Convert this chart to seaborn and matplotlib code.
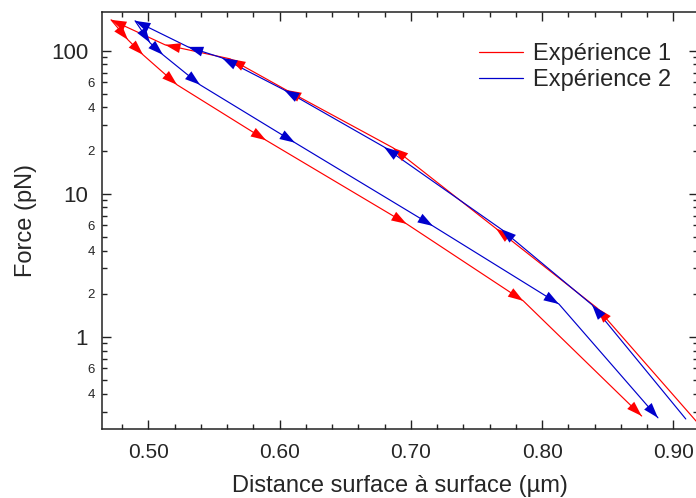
import numpy as np
import pandas as pd
import matplotlib
matplotlib.use('Agg')
import matplotlib.pyplot as plt
import matplotlib.ticker as mticker
from matplotlib.lines import Line2D
import seaborn as sns

# Expérience 1 : approche (vers la gauche) puis retrait (vers la droite)
dist_exp1 = [0.921, 0.8417, 0.7648, 0.6864, 0.6049, 0.5623, 0.5128, 0.4716,
             0.4845, 0.4960, 0.5219, 0.5897, 0.6968, 0.7856, 0.8758]
force_exp1 = [0.235, 1.59, 5.71, 20.9, 53.1, 87.5, 109.6, 163.9,
              118.8, 93.3, 57.6, 23.6, 6.14, 1.78, 0.279]

# Expérience 2
dist_exp2 = [0.9094, 0.8380, 0.7686, 0.6795, 0.6034, 0.5561, 0.5302, 0.4899,
             0.5013, 0.5112, 0.5394, 0.6117, 0.7168, 0.8128, 0.8882]
force_exp2 = [0.266, 1.67, 5.66, 21.2, 53.1, 88.9, 106.1, 161.3,
              113.2, 93.3, 57.6, 22.7, 5.94, 1.69, 0.271]

labels = ['Expérience 1', 'Expérience 2']
colors = ['#ff0000', '#0000cc']

sns.set_style('ticks')
plt.rcParams['font.family'] = ['Liberation Sans', 'DejaVu Sans']

df = pd.DataFrame({
    'distance': dist_exp1 + dist_exp2,
    'force': force_exp1 + force_exp2,
    'experience': [labels[0]] * len(dist_exp1) + [labels[1]] * len(dist_exp2),
})

fig = plt.figure(figsize=(6.96, 4.98), dpi=100)
ax = fig.add_axes([102 / 696, 1 - 428.7 / 498, (698 - 102) / 696, (428.7 - 12) / 498])

sns.lineplot(data=df, x='distance', y='force', hue='experience', palette=colors,
             sort=False, estimator=None, linewidth=0.85, legend=False, ax=ax)
ax.set_yscale('log')
ax.set_xlim(0.4647, 0.9187)
ax.set_ylim(0.2275, 186)

# fleches sur chaque point, orientees dans le sens du parcours
for d, f, c in [(dist_exp1, force_exp1, colors[0]), (dist_exp2, force_exp2, colors[1])]:
    pts = ax.transData.transform(np.column_stack([d, f]))
    for i in range(1, len(pts)):
        v = pts[i] - pts[i - 1]
        u = v / np.hypot(*v)
        back = -u * 16
        ax.annotate('', xy=(d[i], f[i]), xytext=(back[0], back[1]),
                    textcoords='offset pixels',
                    arrowprops=dict(arrowstyle='-|>,head_length=1.1,head_width=0.36',
                                    mutation_scale=10, color=c, lw=0,
                                    shrinkA=0, shrinkB=0))

# axes
ax.xaxis.set_major_locator(mticker.MultipleLocator(0.1))
ax.xaxis.set_minor_locator(mticker.MultipleLocator(0.02))
ax.xaxis.set_major_formatter(mticker.FormatStrFormatter('%.2f'))

ax.yaxis.set_major_locator(mticker.FixedLocator([1, 10, 100]))
ax.yaxis.set_major_formatter(mticker.FuncFormatter(lambda v, p: f'{v:g}'))
minor_y = [m * 10.0 ** e for e in (-1, 0, 1, 2) for m in range(2, 10)]
ax.yaxis.set_minor_locator(mticker.FixedLocator(minor_y))


def minor_label(v, pos):
    m = int(round(v / 10 ** np.floor(np.log10(v) + 1e-9)))
    return str(m) if m in (2, 4, 6) else ''


ax.yaxis.set_minor_formatter(mticker.FuncFormatter(minor_label))

ax.tick_params(which='both', direction='in', top=True, right=True, color='#222222', width=1)
ax.tick_params(which='major', length=6.5)
ax.tick_params(which='minor', length=3.6)
ax.tick_params(axis='x', which='major', labelsize=15, pad=10)
ax.tick_params(axis='y', which='major', labelsize=16, pad=10)
ax.tick_params(axis='y', which='minor', labelsize=9.5, pad=5)
for sp in ax.spines.values():
    sp.set_linewidth(1.1)
    sp.set_color('#222222')

ax.set_xlabel('Distance surface à surface (µm)', fontsize=17, labelpad=10)
ax.set_ylabel('Force (pN)', fontsize=17, labelpad=10)

handles = [Line2D([], [], color=c, lw=0.9) for c in colors]
ax.legend(handles, labels, loc='upper left', bbox_to_anchor=(479 / 696, 1 - 43 / 498),
          bbox_transform=fig.transFigure, frameon=False, fontsize=17,
          handlelength=1.86, handletextpad=0.42, labelspacing=0.18,
          borderpad=0, borderaxespad=0)

fig.savefig('out.png', dpi=100)
